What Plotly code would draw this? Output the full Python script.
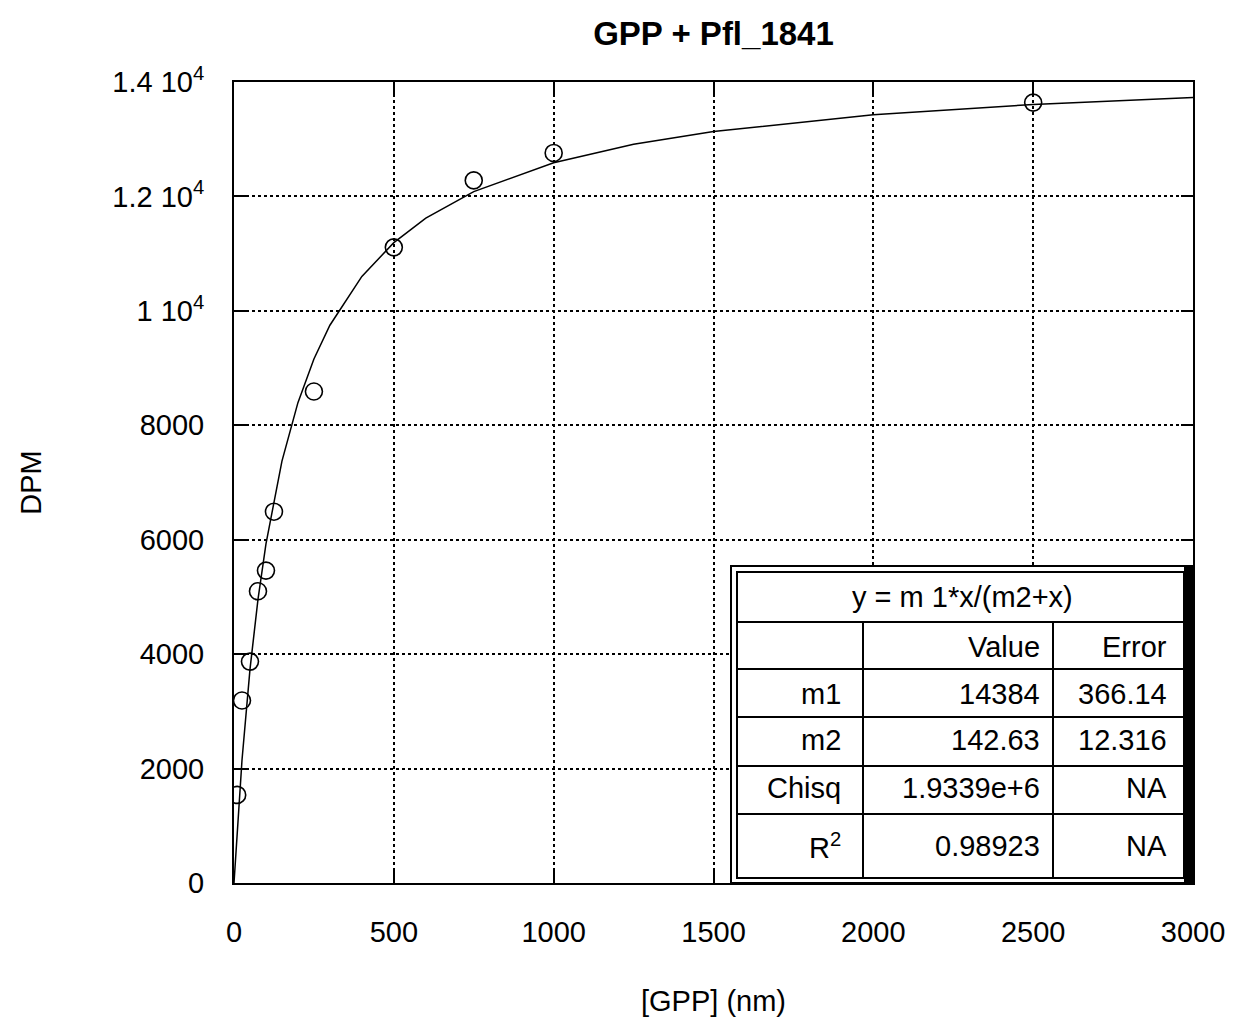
import plotly.graph_objects as go

# Data points
x_data = [10, 25, 50, 75, 100, 125, 250, 500, 750, 1000, 2500]
y_data = [1540, 3190, 3870, 5100, 5460, 6490, 8590, 11110, 12280, 12760, 13640]

# Fit curve samples
x_fit = [0, 10, 25, 50, 75, 100, 150, 200, 250, 300, 400, 500, 600, 750,
         1000, 1250, 1500, 2000, 2500, 3000]
y_fit = [0, 942, 2145, 3734, 4957, 5928, 7373, 8396, 9159, 9749, 10603, 11192,
         11621, 12085, 12588, 12911, 13135, 13426, 13608, 13731]

x_ticks = [0, 500, 1000, 1500, 2000, 2500, 3000]
y_ticks = [0, 2000, 4000, 6000, 8000, 10000, 12000, 14000]
y_ticktext = ["0", "2000", "4000", "6000", "8000", "1 10<sup>4</sup>",
              "1.2 10<sup>4</sup>", "1.4 10<sup>4</sup>"]

fit_equation = "y = m 1*x/(m2+x)"
table_labels = ["m1", "m2", "Chisq", "R<sup>2</sup>"]
table_values = ["14384", "142.63", "1.9339e+6", "0.98923"]
table_errors = ["366.14", "12.316", "NA", "NA"]

FONT = "Liberation Sans, Arial, sans-serif"
TS = 29  # general text size

# plot area in pixels
L, R, T, B = 234, 1193, 82, 883


def px(xp):
    return (xp - L) / (R - L)


def py(yp):
    return (B - yp) / (B - T)


fig = go.Figure()
fig.add_trace(go.Scatter(x=x_fit, y=y_fit, mode="lines",
                         line=dict(color="black", width=1.5), showlegend=False))
fig.add_trace(go.Scatter(x=x_data, y=y_data, mode="markers",
                         marker=dict(symbol="circle-open", size=17,
                                     color="black", line=dict(width=1.6)),
                         showlegend=False))

shapes = []


def line(x0, y0, x1, y1, width=2):
    return dict(type="line", xref="paper", yref="paper",
                x0=px(x0), x1=px(x1), y0=py(y0), y1=py(y1),
                line=dict(color="black", width=width), layer="above")


shapes.append(dict(type="rect", xref="paper", yref="paper",
                   x0=px(731), x1=px(1193), y0=py(883), y1=py(566),
                   fillcolor="white", line=dict(color="black", width=2),
                   layer="above"))
shapes.append(dict(type="rect", xref="paper", yref="paper",
                   x0=px(1184), x1=px(1194), y0=py(883), y1=py(566),
                   fillcolor="black", line=dict(width=0), layer="above"))
shapes.append(dict(type="rect", xref="paper", yref="paper",
                   x0=px(737), x1=px(1184), y0=py(878), y1=py(572),
                   fillcolor="white", line=dict(color="black", width=2),
                   layer="above"))
for yy in [622, 669, 717, 766, 814]:
    shapes.append(line(737, yy, 1184, yy))
for xx in [863, 1053]:
    shapes.append(line(xx, 622, xx, 878))

annotations = []


def ann(txt, xx, yy, anchor):
    annotations.append(dict(xref="paper", yref="paper", x=px(xx), y=py(yy),
                            text=txt, showarrow=False,
                            font=dict(family=FONT, size=TS, color="black"),
                            xanchor=anchor, yanchor="middle"))


ann(fit_equation, 962, 597, "center")
ann("Value", 1042, 647, "right")
ann("Error", 1169, 647, "right")
row_y = [694, 740, 788, 846]
for lab, val, err, yy in zip(table_labels, table_values, table_errors, row_y):
    ann(lab, 843, yy, "right")
    ann(val, 1042, yy, "right")
    ann(err, 1169, yy, "right")

fig.update_layout(
    width=1236, height=1024,
    margin=dict(l=L, r=1236 - R, t=T, b=1024 - B),
    paper_bgcolor="white", plot_bgcolor="white",
    title=dict(text="<b>GPP + Pfl_1841</b>", x=0.5, xref="paper",
               y=1 - 33 / 1024, yanchor="middle",
               font=dict(family=FONT, size=33, color="black")),
    xaxis=dict(range=[0, 3000], tickvals=x_ticks, ticks="inside", ticklen=12,
               tickwidth=2, tickcolor="black",
               showline=True, linecolor="black", linewidth=2, mirror="ticks",
               showgrid=True, gridcolor="black", griddash="dot", gridwidth=1.5,
               zeroline=False, ticklabelstandoff=22,
               tickfont=dict(family=FONT, size=TS, color="black"),
               title=dict(text="[GPP] (nm)", standoff=44,
                          font=dict(family=FONT, size=TS, color="black"))),
    yaxis=dict(range=[0, 14000], tickvals=y_ticks, ticktext=y_ticktext,
               ticks="inside", ticklen=12, tickwidth=2, tickcolor="black",
               showline=True, linecolor="black", linewidth=2, mirror="ticks",
               showgrid=True, gridcolor="black", griddash="dot", gridwidth=1.5,
               zeroline=False, ticklabelstandoff=22,
               tickfont=dict(family=FONT, size=TS, color="black"),
               title=dict(text="DPM", standoff=62,
                          font=dict(family=FONT, size=TS, color="black"))),
    shapes=shapes,
    annotations=annotations,
)

fig.write_html("out.html")
